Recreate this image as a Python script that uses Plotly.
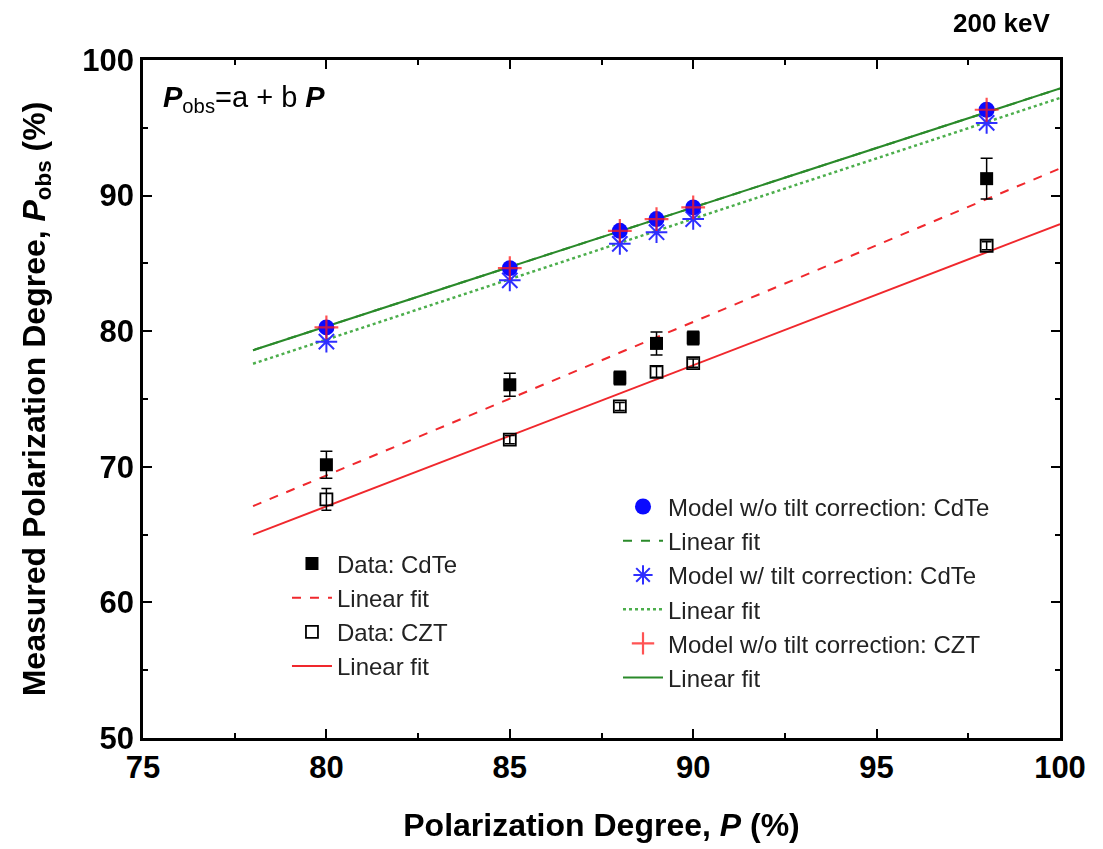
import plotly.graph_objects as go

# ---- data ----
P = [80, 85, 88, 89, 90, 98]
data_cdte = [70.15, 76.05, 76.55, 79.1, 79.5, 91.25]
err_cdte = [1.0, 0.85, 0.5, 0.85, 0.5, 1.5]
data_czt = [67.6, 72.0, 74.45, 77.0, 77.65, 86.3]
err_czt = [0.8, 0.3, 0.3, 0.4, 0.3, 0.3]
model_cdte_notilt = [80.28, 84.65, 87.4, 88.27, 89.13, 96.33]
model_cdte_tilt = [79.23, 83.75, 86.44, 87.3, 88.27, 95.36]
model_czt_notilt = [80.28, 84.65, 87.4, 88.27, 89.13, 96.33]

fit_x = [78, 100]
fit_data_cdte = [67.1, 92.0]
fit_data_czt = [65.0, 87.9]
fit_model_cdte_notilt = [78.6, 97.9]
fit_model_cdte_tilt = [77.6, 97.2]
fit_model_czt_notilt = [78.6, 97.9]

RED = "#f0282d"
GREEN = "#2a8a2a"
GREEN_LIGHT = "#4cae4c"
BLUE = "#0a0aff"
FONT = "Arial, Liberation Sans"

fig = go.Figure()

# fit lines (drawn first, under markers)
fig.add_trace(go.Scatter(x=fit_x, y=fit_data_cdte, mode="lines",
                         line=dict(color=RED, width=2, dash="dash"),
                         name="Linear fit", legend="legend", legendrank=2))
fig.add_trace(go.Scatter(x=fit_x, y=fit_data_czt, mode="lines",
                         line=dict(color=RED, width=2),
                         name="Linear fit", legend="legend", legendrank=4))
fig.add_trace(go.Scatter(x=fit_x, y=fit_model_cdte_notilt, mode="lines",
                         line=dict(color=GREEN, width=2, dash="dash"),
                         name="Linear fit", legend="legend2", legendrank=2))
fig.add_trace(go.Scatter(x=fit_x, y=fit_model_cdte_tilt, mode="lines",
                         line=dict(color=GREEN_LIGHT, width=2.5, dash="dot"),
                         name="Linear fit", legend="legend2", legendrank=4))
fig.add_trace(go.Scatter(x=fit_x, y=fit_model_czt_notilt, mode="lines",
                         line=dict(color=GREEN, width=2),
                         name="Linear fit", legend="legend2", legendrank=6))

# data
fig.add_trace(go.Scatter(x=P, y=data_cdte, mode="markers",
                         marker=dict(symbol="square", size=13, color="black"),
                         error_y=dict(type="data", array=err_cdte, color="black",
                                      thickness=1.5, width=6),
                         name="Data: CdTe", legend="legend", legendrank=1))
fig.add_trace(go.Scatter(x=P, y=data_czt, mode="markers",
                         marker=dict(symbol="square-open", size=12, color="black",
                                     line=dict(width=1.8)),
                         error_y=dict(type="data", array=err_czt, color="black",
                                      thickness=1.5, width=5),
                         name="Data: CZT", legend="legend", legendrank=3))

# models
fig.add_trace(go.Scatter(x=P, y=model_cdte_tilt, mode="markers",
                         marker=dict(symbol="asterisk-open", size=18, color="#2f2fff",
                                     line=dict(color="#2f2fff", width=2)),
                         name="Model w/ tilt correction: CdTe", legend="legend2",
                         legendrank=3))
fig.add_trace(go.Scatter(x=P, y=model_cdte_notilt, mode="markers",
                         marker=dict(symbol="circle", size=16, color=BLUE),
                         name="Model w/o tilt correction: CdTe", legend="legend2",
                         legendrank=1))
fig.add_trace(go.Scatter(x=P, y=model_czt_notilt, mode="markers",
                         marker=dict(symbol="cross-thin-open", size=17, color="#ff1a1a",
                                     line=dict(color="#ff1a1a", width=2.2)),
                         opacity=0.75,
                         name="Model w/o tilt correction: CZT", legend="legend2",
                         legendrank=5))

axis_common = dict(
    showline=True, linecolor="black", linewidth=2.5, mirror="ticks",
    ticks="inside", ticklen=9, tickwidth=2, tickcolor="black",
    showgrid=False, zeroline=False,
    tickfont=dict(family=FONT, size=31, color="black", weight="bold"),
)

fig.update_xaxes(
    range=[75, 100], dtick=5, tick0=75,
    minor=dict(ticks="inside", ticklen=5, tickwidth=2, tickcolor="black", dtick=2.5),
    title=dict(text="Polarization Degree, <i>P</i> (%)", standoff=30,
               font=dict(family=FONT, size=32, color="black", weight="bold")),
    **axis_common)
fig.update_yaxes(
    range=[50, 100], dtick=10, tick0=50,
    minor=dict(ticks="inside", ticklen=5, tickwidth=2, tickcolor="black", dtick=5),
    title=dict(text="Measured Polarization Degree, <i>P</i><sub>obs</sub> (%)", standoff=28,
               font=dict(family=FONT, size=32, color="black", weight="bold")),
    **axis_common)

legend_font = dict(family=FONT, size=24, color="#222222")
fig.update_layout(
    width=1103, height=849,
    margin=dict(l=143, r=43, t=60, b=107),
    plot_bgcolor="white", paper_bgcolor="white",
    legend=dict(x=0.157, y=0.29, xanchor="left", yanchor="top",
                bgcolor="rgba(0,0,0,0)", font=legend_font, tracegroupgap=0,
                itemwidth=40),
    legend2=dict(x=0.518, y=0.374, xanchor="left", yanchor="top",
                 bgcolor="rgba(0,0,0,0)", font=legend_font, tracegroupgap=0,
                 itemwidth=40),
    annotations=[
        dict(text="<b>200 keV</b>", xref="paper", yref="paper", x=0.992, y=1.0,
             xanchor="right", yanchor="bottom", yshift=20, showarrow=False,
             font=dict(family=FONT, size=26, color="black")),
        dict(text="<b><i>P</i></b><sub>obs</sub>=a + b <b><i>P</i></b>", xref="paper", yref="paper",
             x=0.02, y=0.972, xanchor="left", yanchor="top", showarrow=False,
             font=dict(family=FONT, size=29, color="black")),
    ],
)

fig.write_html("out.html")
